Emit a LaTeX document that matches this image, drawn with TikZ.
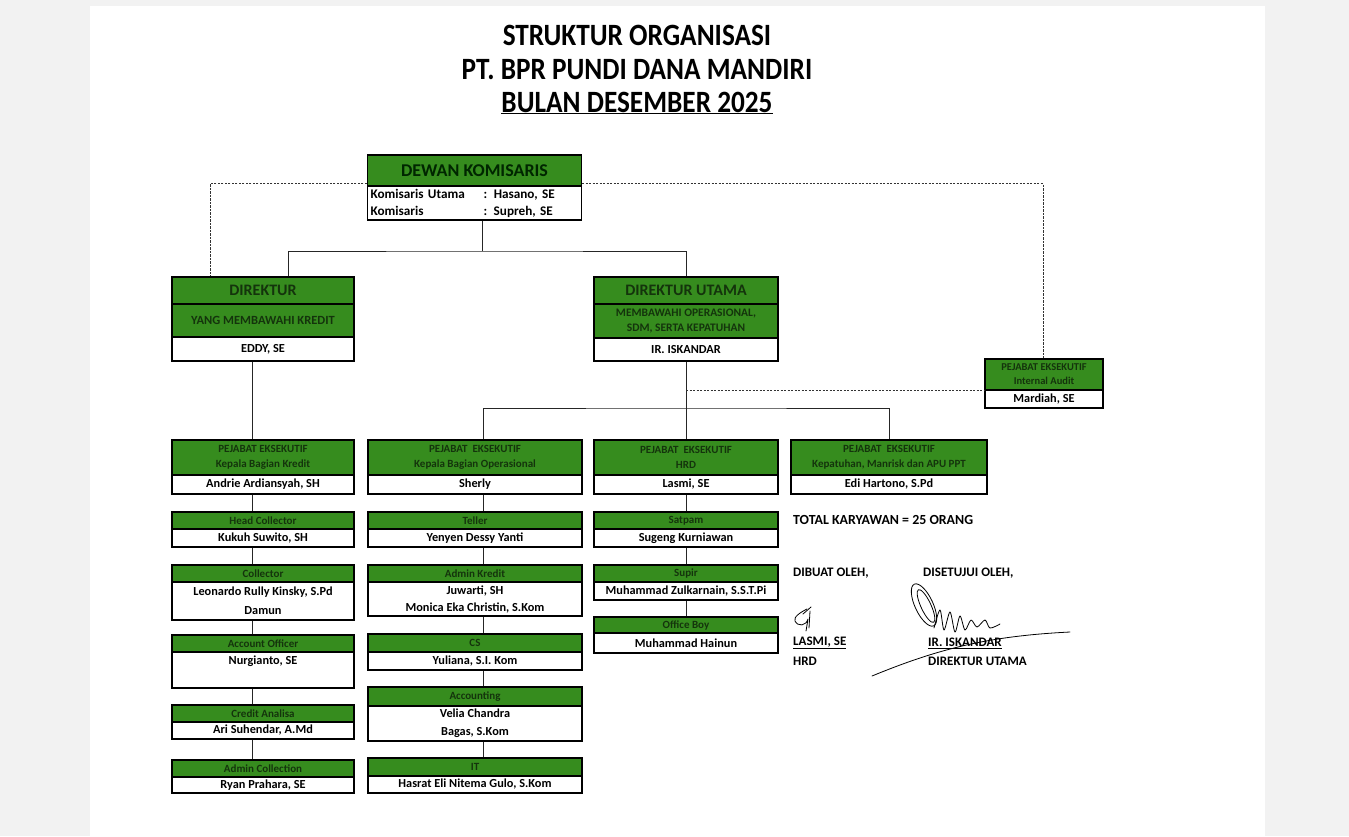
\documentclass[tikz,border=0pt]{standalone}
\usepackage{fontspec}
\setmainfont{Carlito}
\definecolor{orggreen}{RGB}{54,140,30}
\definecolor{hdtext}{RGB}{20,52,12}
\definecolor{pagegray}{RGB}{242,242,242}
\tikzset{
  hd/.style={draw=black, line width=1.3pt, fill=orggreen, text=hdtext, inner sep=0pt, align=center,
    font=\bfseries\fontsize{11}{15}\selectfont},
  nm/.style={draw=black, line width=1.3pt, fill=white, inner sep=0pt, align=center,
    font=\bfseries\fontsize{12.3}{19}\selectfont},
  cA/.style={minimum width=182},
  cB/.style={minimum width=214},
  cC/.style={minimum width=184},
  cD/.style={minimum width=196},
  link/.style={line width=0.9pt, draw=black!85},
  dotlink/.style={line width=0.9pt, draw=black!80, dash pattern=on 2.2pt off 1.3pt},
  note/.style={anchor=west, inner sep=0pt, font=\bfseries\fontsize{13}{15}\selectfont},
  sig/.style={line width=0.8pt, line cap=round, line join=round}
}
\begin{document}
\begin{tikzpicture}[x=1pt, y=-1pt]
  \useasboundingbox (0,0) rectangle (1349,836);
  \fill[pagegray] (0,0) rectangle (1349,836);
  \fill[white] (90,6) rectangle (1265,836);

  % title
  \node[font=\bfseries\fontsize{31}{36}\selectfont] (title1) at (637,35) {\scalebox{0.88}[1]{STRUKTUR ORGANISASI}};
  \node[font=\bfseries\fontsize{31}{36}\selectfont] (title2) at (637,70) {\scalebox{0.88}[1]{PT. BPR PUNDI DANA MANDIRI}};
  \node[font=\bfseries\fontsize{31}{36}\selectfont] (title3) at (637,103) {\scalebox{0.88}[1]{\underline{BULAN DESEMBER 2025}}};

  % dewan komisaris
  \node[hd, minimum width=214, minimum height=31, text=black!85!green, font=\bfseries\fontsize{18}{21}\selectfont] (dk-t) at (474.5,170.5) {DEWAN KOMISARIS};
  \node[nm, minimum width=214, minimum height=34, text width=208, align=left, font=\bfseries\fontsize{13.2}{17}\selectfont] (dk-b) at (474.5,203)
    {\makebox[113pt][l]{Komisaris Utama}: Hasano, SE\\\makebox[113pt][l]{Komisaris}: Supreh, SE};

  % direksi
  \node[hd, cA, minimum height=27, font=\bfseries\fontsize{16}{19}\selectfont] (dir-t) at (263,290.5) {DIREKTUR};
  \node[hd, cA, minimum height=33, font=\bfseries\fontsize{12.5}{15}\selectfont] (dir-s) at (263,320.5) {YANG MEMBAWAHI KREDIT};
  \node[nm, cA, minimum height=24] (dir-n) at (263,349) {EDDY, SE};

  \node[hd, cC, minimum height=27, font=\bfseries\fontsize{16}{19}\selectfont] (du-t) at (686,290.5) {DIREKTUR UTAMA};
  \node[hd, cC, minimum height=34, font=\bfseries\fontsize{11.5}{15}\selectfont] (du-s) at (686,321) {MEMBAWAHI OPERASIONAL,\\SDM, SERTA KEPATUHAN};
  \node[nm, cC, minimum height=23] (du-n) at (686,349.5) {IR. ISKANDAR};

  % internal audit
  \node[hd, minimum width=118, minimum height=31, font=\bfseries\fontsize{10.5}{14}\selectfont] (ia-t) at (1044,374.5) {PEJABAT EKSEKUTIF\\Internal Audit};
  \node[nm, minimum width=118, minimum height=18] (ia-n) at (1044,399) {Mardiah, SE};

  % pejabat eksekutif
  \node[hd, cA, minimum height=35] (kbk-t) at (263,457.5) {PEJABAT EKSEKUTIF\\Kepala Bagian Kredit};
  \node[nm, cA, minimum height=19] (kbk-n) at (263,484.5) {Andrie Ardiansyah, SH};
  \node[hd, cB, minimum height=35] (kbo-t) at (475,457.5) {PEJABAT\ \ EKSEKUTIF\\Kepala Bagian Operasional};
  \node[nm, cB, minimum height=19] (kbo-n) at (475,484.5) {Sherly};
  \node[hd, cC, minimum height=35] (hrd-t) at (686,457.5) {PEJABAT\ \ EKSEKUTIF\\HRD};
  \node[nm, cC, minimum height=19] (hrd-n) at (686,484.5) {Lasmi, SE};
  \node[hd, cD, minimum height=35] (kmp-t) at (889,457.5) {PEJABAT\ \ EKSEKUTIF\\Kepatuhan, Manrisk dan APU PPT};
  \node[nm, cD, minimum height=19] (kmp-n) at (889,484.5) {Edi Hartono, S.Pd};

  % bagian kredit
  \node[hd, cA, minimum height=17] (hc-t) at (263,520.5) {Head Collector};
  \node[nm, cA, minimum height=18] (hc-n) at (263,538) {Kukuh Suwito, SH};
  \node[hd, cA, minimum height=17] (col-t) at (263,573.5) {Collector};
  \node[nm, cA, minimum height=38] (col-n) at (263,601) {Leonardo Rully Kinsky, S.Pd\\Damun};
  \node[hd, cA, minimum height=17] (ao-t) at (263,643.5) {Account Officer};
  \node[nm, cA, minimum height=36] (ao-n) at (263,670) {Nurgianto, SE\\\mbox{}};
  \node[hd, cA, minimum height=17] (ca-t) at (263,713.5) {Credit Analisa};
  \node[nm, cA, minimum height=17] (ca-n) at (263,730.5) {Ari Suhendar, A.Md};
  \node[hd, cA, minimum height=17] (ac-t) at (263,768.5) {Admin Collection};
  \node[nm, cA, minimum height=16] (ac-n) at (263,785) {Ryan Prahara, SE};

  % bagian operasional
  \node[hd, cB, minimum height=17] (tel-t) at (475,520.5) {Teller};
  \node[nm, cB, minimum height=18] (tel-n) at (475,538) {Yenyen Dessy Yanti};
  \node[hd, cB, minimum height=17] (adk-t) at (475,573.5) {Admin Kredit};
  \node[nm, cB, minimum height=34, font=\bfseries\fontsize{12.3}{17}\selectfont] (adk-n) at (475,599) {Juwarti, SH\\Monica Eka Christin, S.Kom};
  \node[hd, cB, minimum height=18] (cs-t) at (475,643) {CS};
  \node[nm, cB, minimum height=18] (cs-n) at (475,661) {Yuliana, S.I. Kom};
  \node[hd, cB, minimum height=19] (acc-t) at (475,696.5) {Accounting};
  \node[nm, cB, minimum height=35, font=\bfseries\fontsize{12.3}{18}\selectfont] (acc-n) at (475,723.5) {Velia Chandra\\Bagas, S.Kom};
  \node[hd, cB, minimum height=18] (it-t) at (475,767) {IT};
  \node[nm, cB, minimum height=17] (it-n) at (475,784.5) {Hasrat Eli Nitema Gulo, S.Kom};

  % hrd
  \node[hd, cC, minimum height=17] (sat-t) at (686,520.5) {Satpam};
  \node[nm, cC, minimum height=18] (sat-n) at (686,538) {Sugeng Kurniawan};
  \node[hd, cC, minimum height=17] (sup-t) at (686,573.5) {Supir};
  \node[nm, cC, minimum height=18] (sup-n) at (686,591) {Muhammad Zulkarnain, S.S.T.Pi};
  \node[hd, cC, minimum height=16] (ob-t) at (686,625) {Office Boy};
  \node[nm, cC, minimum height=20] (ob-n) at (686,643) {Muhammad Hainun};

  % connectors
  \coordinate (bar1) at (482,251);
  \coordinate (bar2) at (686,408);
  \draw[link] ([xshift=7.5pt]dk-b.south) -- (bar1);
  \draw[link] ([xshift=25pt]dir-t.north) |- (bar1) -| (du-t.north);
  \draw[dotlink] ([yshift=3pt]dk-t.south west) -| ([xshift=-53pt]dir-t.north);
  \draw[dotlink] ([yshift=3pt]dk-t.south east) -| ([xshift=-1pt]ia-t.north);
  \draw[link] (du-n.south) -- (hrd-t.north);
  \draw[link] ([xshift=8pt]kbo-t.north) |- (bar2) -| (kmp-t.north);
  \draw[dotlink] (du-n.south |- ia-t.south) -- (ia-t.south west);

  \draw[link] ([xshift=-11pt]dir-n.south) -- ([xshift=-11pt]kbk-t.north);
  \draw[link] ([xshift=-11pt]kbk-n.south) -- ([xshift=-11pt]hc-t.north);
  \draw[link] ([xshift=-11pt]hc-n.south) -- ([xshift=-11pt]col-t.north);
  \draw[link] ([xshift=-11pt]col-n.south) -- ([xshift=-11pt]ao-t.north);
  \draw[link] ([xshift=-11pt]ao-n.south) -- ([xshift=-11pt]ca-t.north);
  \draw[link] ([xshift=-11pt]ca-n.south) -- ([xshift=-11pt]ac-t.north);

  \draw[link] ([xshift=8pt]kbo-n.south) -- ([xshift=8pt]tel-t.north);
  \draw[link] ([xshift=8pt]tel-n.south) -- ([xshift=8pt]adk-t.north);
  \draw[link] ([xshift=8pt]adk-n.south) -- ([xshift=8pt]cs-t.north);
  \draw[link] ([xshift=8pt]cs-n.south) -- ([xshift=8pt]acc-t.north);
  \draw[link] ([xshift=8pt]acc-n.south) -- ([xshift=8pt]it-t.north);

  \draw[link] (hrd-n.south) -- (sat-t.north);
  \draw[link] (sat-n.south) -- (sup-t.north);
  \draw[link] (sup-n.south) -- (ob-t.north);

  % notes and signatures
  \node[note, font=\bfseries\fontsize{13.9}{16}\selectfont] (total) at (793,520) {TOTAL KARYAWAN = 25 ORANG};
  \node[note] (made) at (793,573) {DIBUAT OLEH,};
  \node[note] (agreed) at (923,573) {DISETUJUI OLEH,};
  \node[note] (hrd-sig) at (793,643) {\underline{LASMI, SE}};
  \node[note] (hrd-role) at (793,661) {HRD};
  \node[note] (du-sig) at (928,643) {\underline{IR. ISKANDAR}};
  \node[note] (du-role) at (928,661) {DIREKTUR UTAMA};

  \draw[sig] (807,609) .. controls (801,612) and (793,617) .. (795,621) .. controls (798,627) and (806,626) .. (808,619) -- (806,631);
  \draw[sig] (803,614) -- (811,607);
  \draw[sig] (810,611) -- (809,628);
  \draw[sig, rotate around={25:(924,605)}] (924,605) ellipse (9 and 23);
  \draw[sig, rotate around={25:(926,606)}] (926,606) ellipse (5 and 18);
  \draw[sig] plot[smooth] coordinates {(934,628) (940,610) (944,630) (950,612) (955,632) (960,616) (965,630) (971,620) (977,627) (985,620) (990,628) (1000,624)};
  \draw[sig] (872,676) .. controls (940,648) and (990,636) .. (1070,632);
\end{tikzpicture}
\end{document}
